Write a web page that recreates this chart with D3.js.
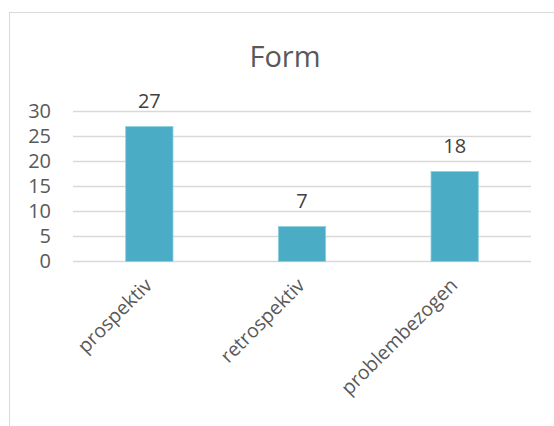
<!DOCTYPE html>
<html>
<head>
<meta charset="utf-8">
<script src="https://cdn.jsdelivr.net/npm/d3@7.9.0/dist/d3.min.js"></script>
<style>
  html, body { margin: 0; padding: 0; background: #fff; }
  svg { display: block; font-family: "Open Sans", sans-serif; }
</style>
</head>
<body>
<svg id="chart"></svg>
<script>
// Data
const categories = ["prospektiv", "retrospektiv", "problembezogen"];
const values = [27, 7, 18];
const yTicks = [0, 5, 10, 15, 20, 25, 30];
const title = "Form";

const W = 554, H = 426;
const svg = d3.select("#chart").attr("width", W).attr("height", H);

// outer chart frame (cut off at right and bottom)
svg.append("rect")
  .attr("x", 9.5).attr("y", 12.5)
  .attr("width", 700).attr("height", 600)
  .attr("fill", "none")
  .attr("stroke", "#d9d9d9")
  .attr("stroke-width", 1);

const x = d3.scaleBand()
  .domain(categories)
  .range([73, 531])
  .paddingInner(0.69)
  .paddingOuter(0.345);

const y = d3.scaleLinear()
  .domain([0, 30])
  .range([261.5, 111.5]);

// gridlines
svg.append("g")
  .selectAll("line")
  .data(yTicks)
  .join("line")
  .attr("x1", 73).attr("x2", 531)
  .attr("y1", d => y(d)).attr("y2", d => y(d))
  .attr("stroke", "#d9d9d9")
  .attr("stroke-width", 1.5);

// y axis labels
const yAxis = svg.append("g")
  .attr("transform", "translate(73,0)")
  .call(d3.axisLeft(y).tickValues(yTicks).tickSize(0).tickPadding(22));
yAxis.select(".domain").remove();
yAxis.selectAll("text")
  .attr("font-family", "Open Sans, sans-serif")
  .attr("font-size", 20)
  .attr("fill", "#595959");

// bars
svg.append("g")
  .selectAll("rect")
  .data(values)
  .join("rect")
  .attr("x", (d, i) => x(categories[i]))
  .attr("y", d => y(d))
  .attr("width", x.bandwidth())
  .attr("height", d => y(0) - y(d))
  .attr("fill", "#4bacc6")
  .attr("stroke", "#8fd0e0")
  .attr("stroke-width", 0.8);

// data labels
svg.append("g")
  .selectAll("text")
  .data(values)
  .join("text")
  .attr("x", (d, i) => x(categories[i]) + x.bandwidth() / 2)
  .attr("y", d => y(d) - 19)
  .attr("text-anchor", "middle")
  .attr("font-size", 20)
  .attr("fill", "#404040")
  .text(d => d);

// category labels, rotated
svg.append("g")
  .selectAll("text")
  .data(categories)
  .join("text")
  .attr("transform", d => `translate(${x(d) + x.bandwidth() / 2 + 4},${y(0) + 25}) rotate(-45)`)
  .attr("text-anchor", "end")
  .attr("font-size", 19.5)
  .attr("fill", "#595959")
  .text(d => d);

// title
svg.append("text")
  .attr("x", 285)
  .attr("y", 67)
  .attr("text-anchor", "middle")
  .attr("font-size", 29)
  .attr("fill", "#595959")
  .text(title);
</script>
</body>
</html>
